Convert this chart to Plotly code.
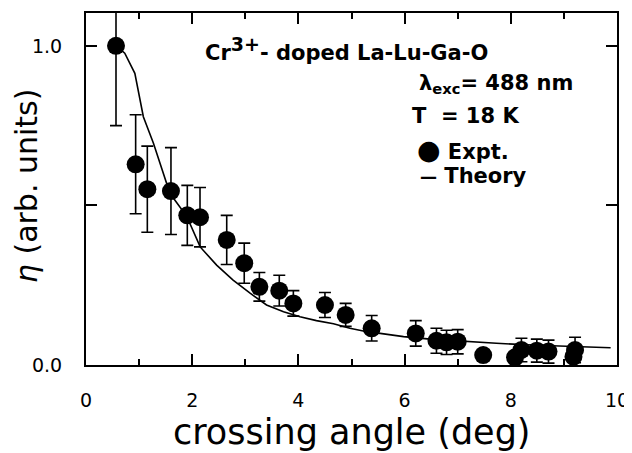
import plotly.graph_objects as go

# Experimental data (crossing angle in deg, eta in arb. units, error)
expt_x = [0.565, 0.935, 1.155, 1.60, 1.908, 2.147, 2.65, 2.98, 3.265, 3.64, 3.905,
          4.50, 4.89, 5.38, 6.21, 6.60, 6.79, 7.00, 7.48, 8.08, 8.20, 8.49, 8.71,
          9.18, 9.21]
expt_y = [1.0, 0.629, 0.551, 0.545, 0.469, 0.463, 0.392, 0.319, 0.245, 0.233, 0.193,
          0.188, 0.157, 0.115, 0.099, 0.076, 0.071, 0.073, 0.031, 0.024, 0.047, 0.045,
          0.042, 0.026, 0.047]
expt_err = [0.25, 0.155, 0.135, 0.136, 0.094, 0.093, 0.077, 0.063, 0.045, 0.048, 0.04,
            0.039, 0.036, 0.04, 0.04, 0.039, 0.038, 0.038, 0.0, 0.0, 0.037, 0.036,
            0.036, 0.0, 0.04]

# Theory curve
theory_x = [0.57, 0.73, 0.92, 1.08, 1.27, 1.43, 1.58, 1.90, 2.15, 2.46, 2.77, 3.09,
            3.40, 3.72, 4.03, 4.34, 4.66, 4.97, 5.29, 5.54, 5.98, 6.48, 7.23, 7.73,
            8.50, 9.00, 9.88]
theory_y = [1.0, 0.977, 0.914, 0.778, 0.695, 0.611, 0.538, 0.465, 0.37, 0.313, 0.266,
            0.225, 0.188, 0.167, 0.151, 0.139, 0.129, 0.115, 0.104, 0.099, 0.089, 0.081,
            0.073, 0.068, 0.062, 0.059, 0.054]

x_ticks = [0, 2, 4, 6, 8, 10]
y_ticks = [0.0, 1.0]
y_tick_text = ["0.0", "1.0"]
y_minor_ticks = [0.5]

fig = go.Figure()
fig.add_trace(go.Scatter(
    x=theory_x, y=theory_y, mode="lines", name="Theory",
    line=dict(color="black", width=1.6), showlegend=False))
fig.add_trace(go.Scatter(
    x=expt_x, y=expt_y, mode="markers", name="Expt.",
    marker=dict(color="black", size=18, line=dict(width=0)),
    error_y=dict(type="data", array=expt_err, visible=True, color="black",
                 thickness=1.6, width=6),
    showlegend=False))

bold = dict(family="DejaVu Sans", size=21, color="black")
ann = [
    dict(x=2.20, y=0.99,
         text="<b>Cr<sup><span style='font-size:19px'>3+</span></sup>- doped La-Lu-Ga-O</b>",
         xanchor="left", yanchor="middle", font=bold),
    dict(x=6.23, y=0.88, text="<b>λ<sub>exc</sub>= 488 nm</b>",
         xanchor="left", yanchor="middle", font=bold),
    dict(x=6.10, y=0.78, text="<b>T  = 18 K</b>",
         xanchor="left", yanchor="middle", font=bold),
    dict(x=6.20, y=0.674,
         text="<span style='font-size:27px'>●</span><b> Expt.</b>",
         xanchor="left", yanchor="middle", font=bold),
    dict(x=6.26, y=0.592,
         text="<span style='font-size:17px'><b>—</b></span><b> Theory</b>",
         xanchor="left", yanchor="middle", font=bold),
]
for a in ann:
    a.update(xref="x", yref="y", showarrow=False)

ann.append(dict(xref="paper", yref="paper", x=-0.113, y=0.511,
                text="<i>η</i> (arb. units)", textangle=-90, showarrow=False,
                xanchor="center", yanchor="middle",
                font=dict(family="DejaVu Sans", size=30, color="black")))
ann.append(dict(xref="paper", yref="paper", x=0.5, y=-0.190,
                text="crossing angle (deg)", showarrow=False,
                xanchor="center", yanchor="middle",
                font=dict(family="DejaVu Sans", size=35, color="black")))

# the page body adds an 8px offset, so the figure is sized to fill the rest
fig.update_layout(
    width=624, height=445,
    margin=dict(l=78, r=15, t=5, b=88, autoexpand=False),
    paper_bgcolor="white", plot_bgcolor="white",
    annotations=ann,
    font=dict(family="DejaVu Sans", color="black"),
)
fig.update_xaxes(
    range=[0, 10], tickvals=x_ticks, ticks="inside", ticklen=11, tickwidth=1.5,
    tickcolor="black", showline=True, linecolor="black", linewidth=2,
    mirror="allticks", showgrid=False, zeroline=False, automargin=False,
    tickfont=dict(family="DejaVu Sans", size=19, color="black"),
    ticklabelstandoff=17,
    minor=dict(dtick=1, ticks="inside", ticklen=6, tickwidth=1.5, tickcolor="black",
               showgrid=False),
)
fig.update_yaxes(
    range=[0, 1.103], tickvals=y_ticks, ticktext=y_tick_text, ticks="inside",
    ticklen=11, tickwidth=1.5, tickcolor="black", showline=True, linecolor="black",
    linewidth=2, mirror="allticks", showgrid=False, zeroline=False, automargin=False,
    tickfont=dict(family="DejaVu Sans", size=19, color="black"),
    ticklabelstandoff=18,
    minor=dict(tickvals=y_minor_ticks, ticks="inside", ticklen=11, tickwidth=1.5,
               tickcolor="black", showgrid=False),
)

fig.write_html("out.html")
